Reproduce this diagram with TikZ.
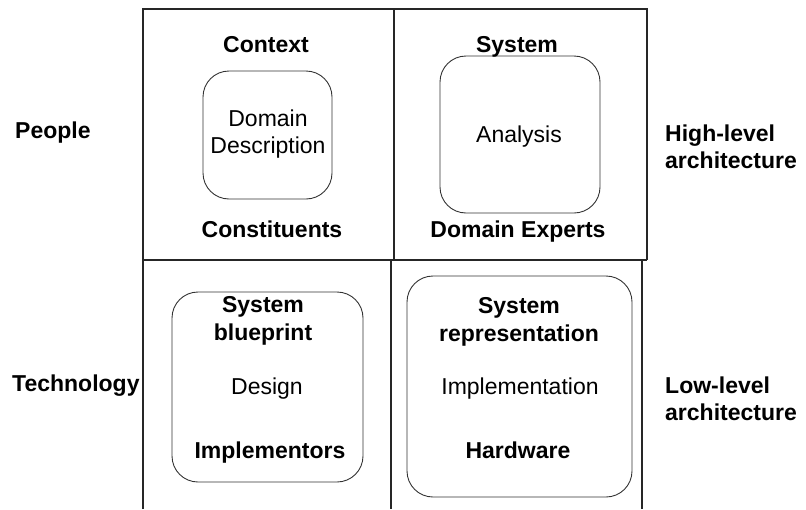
\documentclass[tikz,border=0pt]{standalone}
\usepackage{fontspec}
\setmainfont{Liberation Sans}
\usepackage{tikz}
\usetikzlibrary{positioning}

\begin{document}
\begin{tikzpicture}[
    x=1pt,y=-1pt,
    grid/.style={draw=black!85,line width=1.1pt},
    bubble/.style={rectangle,draw=black!80,line width=0.9pt,rounded corners=26pt,inner sep=0pt,outer sep=0pt},
    heading/.style={anchor=base,inner sep=0pt,align=center,font=\fontsize{23}{28}\selectfont\bfseries},
    content/.style={anchor=base,inner sep=0pt,align=center,font=\fontsize{23}{27}\selectfont},
    side/.style={anchor=base west,inner sep=0pt,align=left,font=\fontsize{23}{26.5}\selectfont\bfseries}
]
\useasboundingbox (0,0) rectangle (806,509);

% the four cells
\draw[grid] (143,509) -- (143,9) -- (647,9) -- (647,260);
\draw[grid] (394,9) -- (394,260);
\draw[grid] (143,260) -- (647,260);
\draw[grid] (391,260) -- (391,509);
\draw[grid] (642,260) -- (642,509);

% rounded boxes
\node[bubble,minimum width=129pt,minimum height=128pt] (descbox) at (267.5,135) {};
\node[bubble,minimum width=160pt,minimum height=157pt] (analysisbox) at (520,134.5) {};
\node[bubble,minimum width=191pt,minimum height=190pt] (designbox) at (267.5,387) {};
\node[bubble,minimum width=225pt,minimum height=221pt] (implbox) at (519.5,386.5) {};

% top left
\node[heading] (context) at (266,52) {Context};
\node[content] (desc) at (268,153) {Domain\\Description};
\node[heading] (constituents) at (272,237) {Constituents};

% top right
\node[heading] (system) at (517,52) {System};
\node[content] (analysis) at (519,142) {Analysis};
\node[heading] (experts) at (518,237) {Domain Experts};

% bottom left
\node[heading] (blueprint) at (263,340) {System\\blueprint};
\node[content] (design) at (267,394) {Design};
\node[heading] (implementors) at (270,458) {Implementors};

% bottom right
\node[heading] (representation) at (519,341) {System\\representation};
\node[content] (implementation) at (520,394) {Implementation};
\node[heading] (hardware) at (518,458) {Hardware};

% row and column labels
\node[side] (people) at (15,138) {People};
\node[side] (technology) at (12,391) {Technology};
\node[side] (highlevel) at (665,168) {High-level\\architecture};
\node[side] (lowlevel) at (665,420) {Low-level\\architecture};

\end{tikzpicture}
\end{document}
